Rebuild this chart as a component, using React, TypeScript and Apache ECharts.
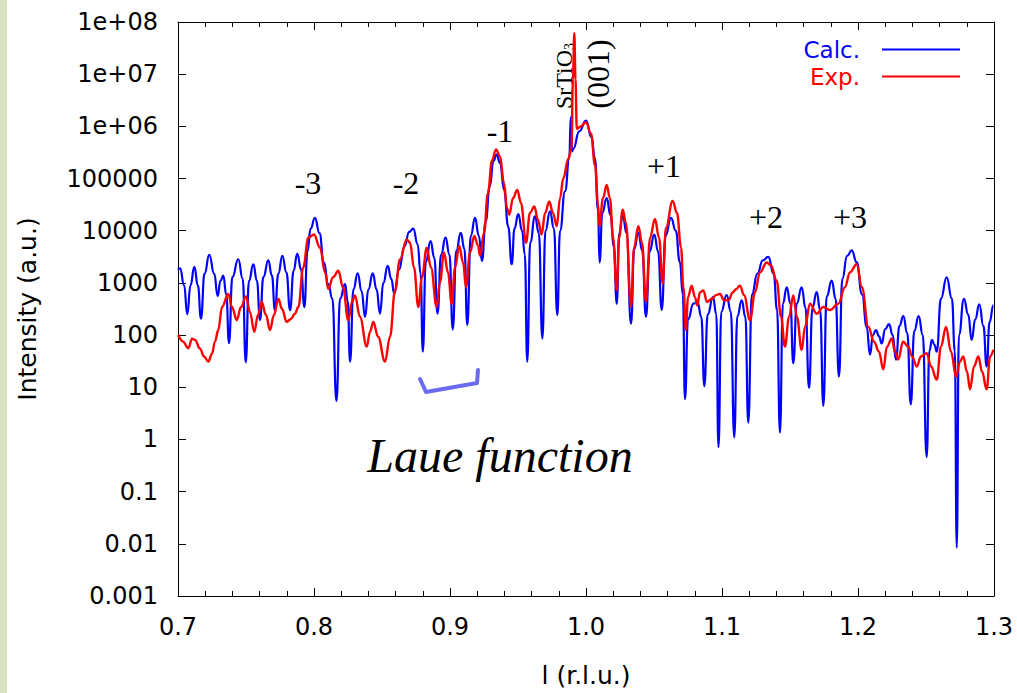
import React, { useEffect, useRef } from "react";
import * as echarts from "echarts";

// ---- data (l in r.l.u., intensity in a.u.) ----
const calc: [number, number][] = [
  [0.7, 1800], [0.7015, 1900], [0.7045, 900], [0.7068, 250], [0.7092, 900],
  [0.712, 2040], [0.7146, 900], [0.7169, 207], [0.7195, 1500], [0.723, 3440],
  [0.7266, 1500], [0.7292, 560], [0.7312, 1100], [0.7333, 1380], [0.7355, 600],
  [0.7375, 70], [0.74, 1300], [0.7443, 2840], [0.7476, 1200], [0.7498, 30],
  [0.7522, 1100], [0.7554, 2280], [0.758, 1100], [0.7603, 195], [0.7628, 1300],
  [0.7664, 2720], [0.769, 1400], [0.7713, 300], [0.7738, 1500], [0.7767, 3300],
  [0.7797, 1600], [0.7824, 300], [0.785, 1700], [0.7877, 3650], [0.7905, 1800],
  [0.7929, 345], [0.7952, 4000], [0.7975, 11000], [0.8007, 17600], [0.804, 9000],
  [0.8072, 2500], [0.8105, 950], [0.8135, 500], [0.8165, 5.5], [0.8192, 500],
  [0.8228, 950], [0.8248, 450], [0.8265, 31], [0.829, 750], [0.8321, 1520],
  [0.835, 700], [0.8375, 223], [0.84, 750], [0.8432, 1520], [0.846, 750],
  [0.8485, 258], [0.851, 1000], [0.8542, 2130], [0.8568, 1200], [0.859, 620],
  [0.8625, 1800], [0.8665, 5000], [0.87, 9500], [0.873, 11000], [0.8762, 5500],
  [0.8784, 1500], [0.88, 48], [0.8822, 2500], [0.8857, 6350], [0.8885, 3000],
  [0.8908, 258], [0.8935, 3500], [0.8967, 7350], [0.8996, 3500], [0.902, 128],
  [0.9047, 4200], [0.9079, 9140], [0.9106, 4500], [0.9127, 155], [0.9153, 8000],
  [0.9184, 17600], [0.9212, 8000], [0.9235, 2650], [0.9262, 15000], [0.9292, 70000],
  [0.932, 220000], [0.9342, 288000], [0.9368, 200000], [0.9398, 60000], [0.9428, 12000],
  [0.9454, 2280], [0.9474, 11000], [0.9502, 20900], [0.953, 10000], [0.955, 3500],
  [0.9568, 31], [0.959, 6000], [0.9625, 18900], [0.9653, 9000], [0.9679, 86],
  [0.9702, 10000], [0.9735, 23500], [0.9764, 11000], [0.9789, 240], [0.9809, 9950],
  [0.9846, 57100], [0.9877, 241000], [0.9888, 1490000], [0.9897, 330000], [0.9907, 373000],
  [0.995, 800000], [1.0, 1290000], [1.004, 620000], [1.0066, 241000], [1.0088, 25000],
  [1.01, 2460], [1.012, 22000], [1.0152, 42100], [1.018, 20000], [1.0205, 5000],
  [1.0226, 398], [1.0245, 9000], [1.027, 20300], [1.0298, 9000], [1.0331, 166],
  [1.0355, 4500], [1.0385, 9140], [1.0413, 4200], [1.0441, 223], [1.0468, 4000],
  [1.0502, 8470], [1.053, 4000], [1.0557, 303], [1.0585, 8000], [1.0625, 17600],
  [1.066, 10000], [1.069, 2500], [1.0712, 600], [1.0728, 5.9], [1.075, 200],
  [1.079, 400], [1.082, 430], [1.0848, 220], [1.087, 10.5], [1.0895, 250],
  [1.0934, 534], [1.0958, 250], [1.0974, 0.71], [1.0995, 280], [1.1034, 583],
  [1.1065, 280], [1.109, 1.1], [1.1113, 230], [1.1145, 462], [1.1172, 220],
  [1.1193, 2.1], [1.122, 600], [1.126, 1500], [1.13, 2700], [1.134, 3160],
  [1.138, 1500], [1.1405, 300], [1.1426, 1.36], [1.1448, 400], [1.1476, 826],
  [1.1503, 400], [1.1524, 29], [1.155, 400], [1.1586, 826], [1.1614, 330],
  [1.164, 9.7], [1.1665, 330], [1.1696, 664], [1.1722, 300], [1.1745, 4.4],
  [1.177, 550], [1.1807, 1110], [1.1835, 500], [1.186, 16], [1.1885, 1200],
  [1.192, 3300], [1.1954, 4220], [1.199, 2500], [1.203, 600], [1.2064, 144],
  [1.2088, 42], [1.211, 100], [1.2132, 125], [1.2155, 95], [1.2174, 69],
  [1.22, 130], [1.2228, 162], [1.2255, 100], [1.2279, 34], [1.2305, 150],
  [1.2333, 230], [1.2362, 110], [1.2388, 4.7], [1.2414, 120], [1.2446, 230],
  [1.2476, 100], [1.2505, 0.46], [1.2525, 50], [1.2544, 81], [1.2562, 65],
  [1.2579, 48], [1.261, 500], [1.2652, 1280], [1.269, 500], [1.2712, 50],
  [1.2726, 0.0084], [1.2742, 100], [1.2779, 496], [1.281, 250], [1.2836, 81],
  [1.2862, 200], [1.2892, 388], [1.2922, 150], [1.2946, 25], [1.2968, 180],
  [1.2995, 372], [1.3, 370],
];

const exp: [number, number][] = [
  [0.7002, 100], [0.7037, 75], [0.7076, 56], [0.7103, 85], [0.7125, 81],
  [0.7162, 55], [0.7191, 39], [0.7223, 31], [0.725, 44], [0.7272, 75],
  [0.7296, 125], [0.7324, 345], [0.737, 617], [0.7397, 345], [0.7432, 193],
  [0.7463, 345], [0.75, 551], [0.7529, 277], [0.7561, 116], [0.7588, 243],
  [0.7615, 430], [0.7647, 243], [0.7676, 125], [0.7706, 243], [0.7738, 496],
  [0.7765, 316], [0.7799, 179], [0.7831, 204], [0.786, 258], [0.7885, 345],
  [0.7921, 1980], [0.7958, 7330], [0.8, 8470], [0.8044, 4740], [0.8081, 1590],
  [0.8105, 768], [0.814, 1280], [0.8179, 1710], [0.8213, 826], [0.8252, 193],
  [0.8279, 430], [0.8301, 575], [0.8338, 223], [0.8388, 60], [0.8412, 116],
  [0.8436, 179], [0.8471, 93], [0.8522, 31], [0.8559, 93], [0.8596, 716],
  [0.8632, 2810], [0.8682, 6810], [0.8706, 5900], [0.8735, 1980], [0.8767, 345],
  [0.8794, 1280], [0.8829, 4740], [0.886, 1980], [0.8902, 345], [0.8926, 1030],
  [0.8956, 3810], [0.8985, 1590], [0.9013, 398], [0.9037, 1980], [0.9068, 5100],
  [0.9096, 2460], [0.9118, 826], [0.9147, 3810], [0.9179, 7900], [0.9206, 5180],
  [0.9221, 3300], [0.925, 9140], [0.9279, 52400], [0.9309, 221000], [0.9338, 362000],
  [0.9368, 264000], [0.9397, 81100], [0.9419, 27200], [0.9436, 20300], [0.9463, 42100],
  [0.9495, 60500], [0.9522, 33800], [0.9559, 5900], [0.9588, 21900], [0.962, 29300],
  [0.9647, 16100], [0.9674, 8470], [0.9699, 21900], [0.973, 36500], [0.9757, 21900],
  [0.9785, 12200], [0.9809, 42100], [0.9833, 101000], [0.987, 241000], [0.9893, 373000],
  [0.9904, 7900000], [0.9914, 61000000], [0.9923, 7900000], [0.9932, 895000], [0.9956, 980000],
  [1.0, 1200000], [1.0037, 720000], [1.0066, 180000], [1.0088, 33800], [1.0098, 12200],
  [1.0125, 42100], [1.0152, 75200], [1.0176, 42100], [1.0199, 7350], [1.0226, 716],
  [1.0243, 7350], [1.027, 25200], [1.0294, 14100], [1.0331, 345], [1.0353, 4740],
  [1.0385, 12200], [1.0412, 5900], [1.0441, 430], [1.0471, 7350], [1.0507, 16800],
  [1.0537, 7350], [1.0564, 955], [1.0588, 11400], [1.0637, 37400], [1.0669, 21900],
  [1.0699, 4740], [1.0716, 826], [1.0735, 125], [1.075, 534], [1.0777, 889],
  [1.0801, 534], [1.0818, 372], [1.0838, 664], [1.0863, 716], [1.089, 430],
  [1.0925, 496], [1.0956, 583], [1.0985, 617], [1.1015, 469], [1.1046, 462],
  [1.1081, 664], [1.1103, 757], [1.1132, 889], [1.1162, 583], [1.1206, 193],
  [1.1243, 664], [1.1279, 1590], [1.1329, 2460], [1.136, 2160], [1.1402, 1110],
  [1.1434, 223], [1.1463, 60], [1.1493, 223], [1.1524, 575], [1.1551, 223],
  [1.1586, 52], [1.161, 144], [1.1647, 398], [1.1696, 258], [1.1745, 345],
  [1.1794, 303], [1.1855, 398], [1.1904, 826], [1.1941, 1590], [1.199, 2280],
  [1.2029, 826], [1.2076, 144], [1.2118, 75], [1.2154, 48], [1.2186, 22],
  [1.2213, 60], [1.2248, 86], [1.2272, 48], [1.2296, 34], [1.2331, 75],
  [1.237, 60], [1.2397, 39], [1.2432, 25], [1.2463, 39], [1.2505, 45],
  [1.2537, 25], [1.2579, 14], [1.261, 60], [1.2647, 144], [1.2684, 48],
  [1.2721, 16], [1.275, 31], [1.2774, 39], [1.2801, 20], [1.2824, 9.1],
  [1.2853, 25], [1.2885, 39], [1.2912, 20], [1.2946, 9.1], [1.2971, 39],
  [1.2995, 52],
];

const yTickLabels = [
  "0.001", "0.01", "0.1", "1", "10", "100", "1000", "10000", "100000",
  "1e+06", "1e+07", "1e+08",
];
const xTickLabels = ["0.7", "0.8", "0.9", "1.0", "1.1", "1.2", "1.3"];

const orderLabels = ["-3", "-2", "-1", "+1", "+2", "+3"];
const orderLabelPos: [number, number][] = [
  [308, 183], [406, 183], [500, 131], [664, 166], [766, 217], [850, 217],
];

const SANS = "DejaVu Sans";
const SERIF = "Liberation Serif";

export default function App() {
  const ref = useRef<HTMLDivElement>(null);
  useEffect(() => {
    if (!ref.current) return;
    const chart = echarts.init(ref.current, undefined, { renderer: "svg" });
    const axisCommon = {
      axisLine: { show: true, lineStyle: { color: "#000", width: 1 } },
      splitLine: { show: false },
    };
    const graphics: any[] = [
      { type: "rect", shape: { x: 0, y: 0, width: 7, height: 693 }, style: { fill: "#d7e4bd" }, silent: true },
      ...orderLabels.map((t, i) => ({
        type: "text",
        x: orderLabelPos[i][0],
        y: orderLabelPos[i][1],
        style: { text: t, fill: "#000", fontFamily: SERIF, fontSize: 32, align: "center", verticalAlign: "middle" },
      })),
      {
        type: "text",
        x: 563,
        y: 76,
        rotation: Math.PI / 2,
        style: {
          text: "{m|SrTiO}{s|3}",
          align: "center",
          verticalAlign: "middle",
          rich: {
            m: { fontFamily: SERIF, fontSize: 24, fill: "#000", lineHeight: 26, verticalAlign: "bottom" },
            s: { fontFamily: SERIF, fontSize: 14, fill: "#000", lineHeight: 26, verticalAlign: "bottom" },
          },
        },
      },
      {
        type: "text",
        x: 598,
        y: 74,
        rotation: Math.PI / 2,
        style: { text: "(001)", fill: "#000", fontFamily: SERIF, fontSize: 32, align: "center", verticalAlign: "middle" },
      },
      {
        type: "text",
        x: 500,
        y: 455,
        style: { text: "Laue function", fill: "#000", fontFamily: SERIF, fontStyle: "italic", fontSize: 48, align: "center", verticalAlign: "middle" },
      },
      {
        type: "polyline",
        shape: { points: [[420, 379], [426, 392], [477, 383], [478, 370]] },
        style: { stroke: "#6b6bef", lineWidth: 4, fill: null, lineJoin: "round", lineCap: "round" },
      },
    ];
    chart.setOption({
      animation: false,
      backgroundColor: "#ffffff",
      grid: { left: 178, right: 23, top: 22, bottom: 91 },
      legend: {
        right: 52,
        top: 33,
        orient: "vertical",
        align: "right",
        icon: "rect",
        itemWidth: 78,
        itemHeight: 2,
        itemGap: 4,
        textStyle: { fontFamily: SANS, fontSize: 23, lineHeight: 23, width: 66, align: "right", padding: [0, 17, 0, 0] },
        data: [
          { name: "Calc.", textStyle: { color: "#0000ff" } },
          { name: "Exp.", textStyle: { color: "#ff0000" } },
        ],
      },
      xAxis: [
        {
          type: "value",
          min: 0.7,
          max: 1.3,
          interval: 0.1,
          name: "l (r.l.u.)",
          nameLocation: "middle",
          nameGap: 67,
          nameTextStyle: { fontFamily: SANS, fontSize: 25, color: "#000" },
          ...axisCommon,
          axisTick: { inside: true, length: 8, lineStyle: { color: "#000" } },
          minorTick: { show: true, splitNumber: 5, length: 5, lineStyle: { color: "#000", width: 1 } },
          axisLabel: {
            margin: 19,
            fontFamily: SANS,
            fontSize: 24,
            color: "#000",
            formatter: (v: number) => xTickLabels[Math.round((v - 0.7) * 10)] ?? "",
          },
        },
        {
          type: "value",
          position: "top",
          min: 0.7,
          max: 1.3,
          interval: 0.1,
          ...axisCommon,
          axisTick: { inside: true, length: 8, lineStyle: { color: "#000" } },
          minorTick: { show: true, splitNumber: 5, length: 5, lineStyle: { color: "#000", width: 1 } },
          axisLabel: { show: false },
        },
      ],
      yAxis: [
        {
          type: "log",
          logBase: 10,
          min: 0.001,
          max: 1e8,
          interval: 1,
          name: "Intensity (a.u.)",
          nameLocation: "middle",
          nameGap: 138,
          nameTextStyle: { fontFamily: SANS, fontSize: 25, color: "#000" },
          ...axisCommon,
          axisTick: { inside: true, length: 8, lineStyle: { color: "#000" } },
          axisLabel: {
            margin: 20,
            fontFamily: SANS,
            fontSize: 24,
            color: "#000",
            formatter: (v: number) => yTickLabels[Math.round(Math.log10(v)) + 3] ?? "",
          },
        },
        {
          type: "log",
          logBase: 10,
          min: 0.001,
          max: 1e8,
          interval: 1,
          position: "right",
          ...axisCommon,
          axisTick: { inside: true, length: 8, lineStyle: { color: "#000" } },
          axisLabel: { show: false },
        },
      ],
      series: [
        {
          name: "Calc.",
          type: "line",
          data: calc,
          showSymbol: false,
          symbol: "none",
          smooth: 0.5,
          smoothMonotone: "x",
          clip: true,
          lineStyle: { color: "#0000ff", width: 2.2 },
          itemStyle: { color: "#0000ff" },
        },
        {
          name: "Exp.",
          type: "line",
          data: exp,
          showSymbol: false,
          symbol: "none",
          smooth: 0.4,
          smoothMonotone: "x",
          clip: true,
          lineStyle: { color: "#ff0000", width: 2.4 },
          itemStyle: { color: "#ff0000" },
        },
      ],
      graphic: graphics,
    });
    return () => chart.dispose();
  }, []);
  return (
    <div
      ref={ref}
      style={{ position: "fixed", left: 0, top: 0, width: 1017, height: 693, background: "#fff" }}
    />
  );
}
